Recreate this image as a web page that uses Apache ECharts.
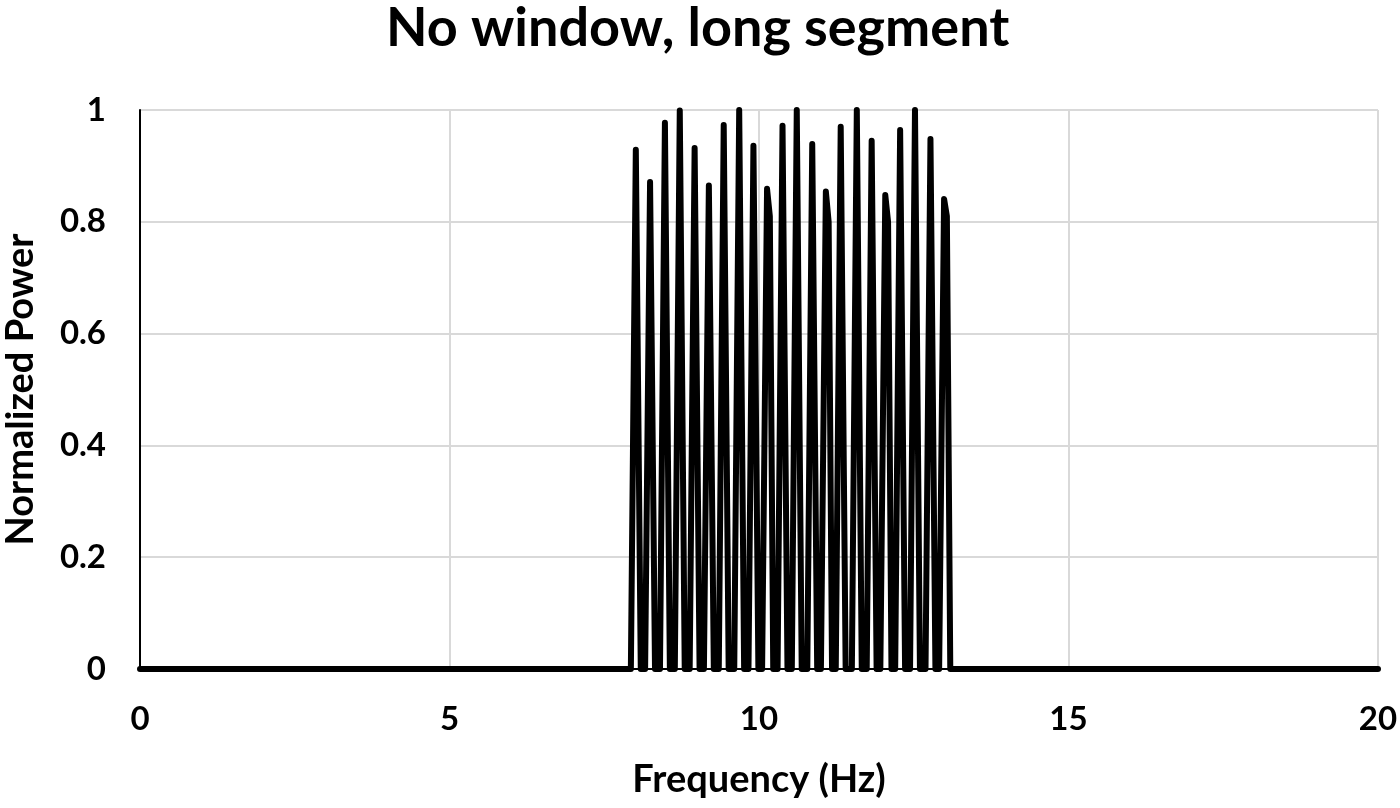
<!DOCTYPE html>
<html lang="en">
<head>
    <meta charset="UTF-8">
    <title>No window, long segment</title>
    <script src="https://cdn.jsdelivr.net/npm/echarts@6/dist/echarts.min.js"></script>
    <style>
        html, body {
            margin: 0;
            padding: 0;
            background: #fff;
        }
    </style>
</head>
<body>
<div id="main" style="width: 1400px;height:808px;"></div>
<script type="application/javascript">
    // peaks (Hz / normalized power)
    var peakFreq = [8.01, 8.24, 8.48, 8.72, 8.96, 9.19, 9.43, 9.68, 9.91, 10.13, 10.38,
        10.61, 10.86, 11.08, 11.32, 11.58, 11.82, 12.04, 12.28, 12.52, 12.77, 12.99];
    var peakPower = [0.929, 0.871, 0.977, 0.999, 0.932, 0.865, 0.973, 1.0, 0.936, 0.859, 0.972,
        1.0, 0.939, 0.854, 0.970, 1.0, 0.945, 0.848, 0.964, 1.0, 0.948, 0.841];
    // some of the lower peaks have a small step on their right side
    var shoulderPower = [null, null, null, null, null, null, null, null, null, 0.81, null,
        null, null, 0.80, null, null, null, 0.80, null, null, null, 0.81];
    var lobeHalf = 0.08;   // half width of a main lobe at its base
    var freqRange = [0, 20];
    var xTicks = [0, 5, 10, 15, 20];
    var yTicks = [0, 0.2, 0.4, 0.6, 0.8, 1];

    var lineData = [[freqRange[0], 0]];
    for (var i = 0; i < peakFreq.length; i++) {
        lineData.push([peakFreq[i] - lobeHalf, 0]);
        lineData.push([peakFreq[i], peakPower[i]]);
        if (shoulderPower[i] !== null) {
            lineData.push([peakFreq[i] + 0.045, shoulderPower[i]]);
            lineData.push([peakFreq[i] + lobeHalf + 0.02, 0]);
        } else {
            lineData.push([peakFreq[i] + lobeHalf, 0]);
        }
    }
    lineData.push([freqRange[1], 0]);

    var font = 'Lato, "Open Sans", sans-serif';
    var myChart = echarts.init(document.getElementById('main'));

    var option = {
        animation: false,
        title: {
            text: 'No window, long segment',
            left: 381,
            top: -3,
            textStyle: {fontFamily: font, fontWeight: 'bold', fontSize: 54, color: '#000'}
        },
        grid: {left: 140, right: 22, top: 110, bottom: 139, containLabel: false, outerBoundsMode: 'none'},
        xAxis: {
            type: 'value',
            min: 0,
            max: 20,
            interval: 5,
            name: 'Frequency (Hz)',
            nameLocation: 'middle',
            nameGap: 92,
            nameTextStyle: {fontFamily: font, fontWeight: 'bold', fontSize: 38, color: '#000'},
            axisLine: {show: true, lineStyle: {color: '#000', width: 2}},
            axisTick: {show: false},
            axisLabel: {
                fontFamily: font, fontWeight: 'bold', fontSize: 33, color: '#000', margin: 34,
                formatter: function (v) { return xTicks.indexOf(v) >= 0 ? String(v) : ''; }
            },
            splitLine: {show: true, lineStyle: {color: '#d9d9d9', width: 2}}
        },
        yAxis: {
            type: 'value',
            min: 0,
            max: 1,
            interval: 0.2,
            name: 'Normalized Power',
            nameLocation: 'middle',
            nameGap: 100,
            nameTextStyle: {fontFamily: font, fontWeight: 'bold', fontSize: 38, color: '#000'},
            axisLine: {show: true, lineStyle: {color: '#000', width: 2}},
            axisTick: {show: false},
            axisLabel: {
                fontFamily: font, fontWeight: 'bold', fontSize: 33, color: '#000', margin: 34,
                formatter: function (v) {
                    var t = yTicks.find(function (y) { return Math.abs(y - v) < 1e-6; });
                    return t === undefined ? '' : String(t);
                }
            },
            splitLine: {show: true, lineStyle: {color: '#d9d9d9', width: 2}}
        },
        series: [{
            type: 'line',
            data: lineData,
            showSymbol: false,
            symbol: 'none',
            lineStyle: {color: '#000', width: 6, join: 'round', cap: 'round'},
            clip: false
        }]
    };

    myChart.setOption(option);
</script>
</body>
</html>
